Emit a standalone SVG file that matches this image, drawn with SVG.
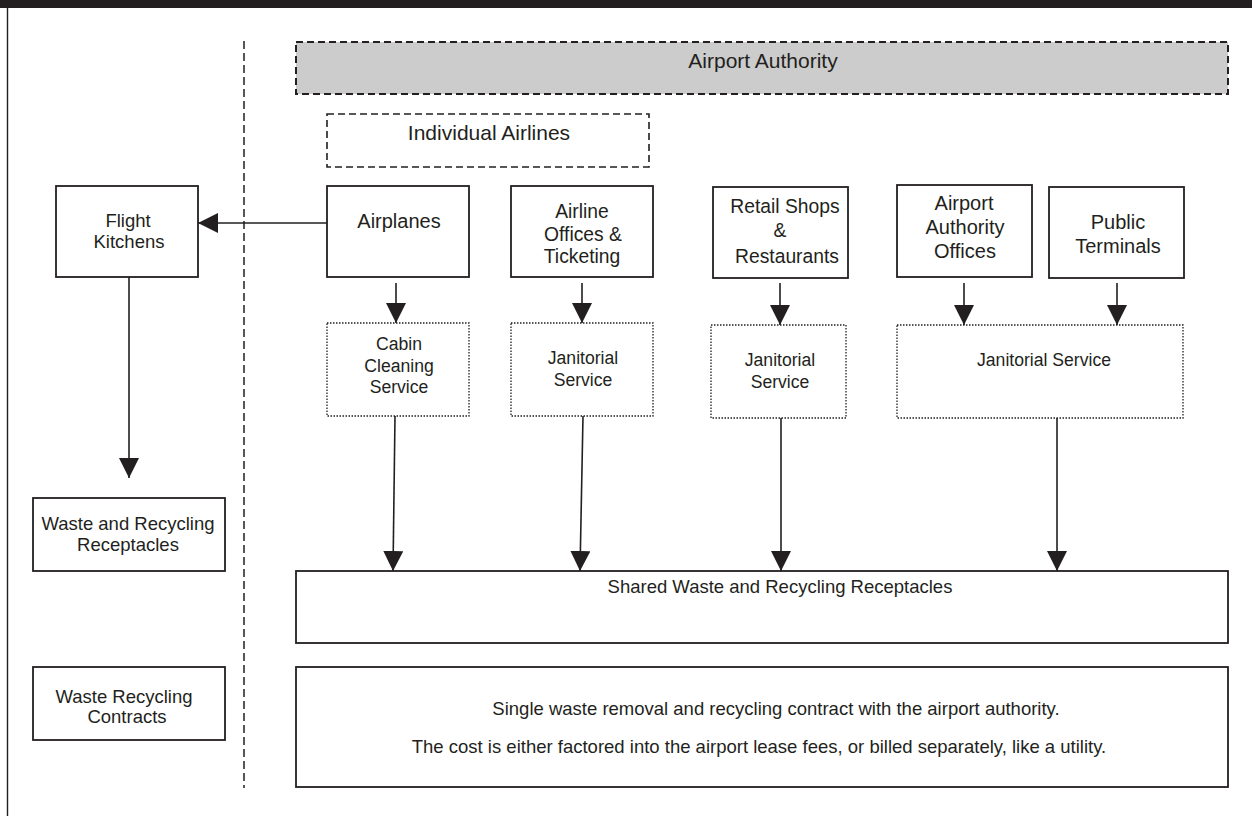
<svg xmlns="http://www.w3.org/2000/svg" width="1252" height="816" viewBox="0 0 1252 816">
<style>
text{font-family:"Liberation Sans",Arial,sans-serif;fill:#231f20;text-anchor:middle}
.box{fill:#fff;stroke:#231f20;stroke-width:1.8}
.dot{fill:#fff;stroke:#231f20;stroke-width:1.3;stroke-dasharray:1.5 1.5}
.dash{fill:none;stroke:#231f20;stroke-width:1.6;stroke-dasharray:7 4}
.con{stroke:#231f20;stroke-width:1.6;fill:none;marker-end:url(#ah)}
.s21{font-size:21px}.s20{font-size:20px}.s19{font-size:19.3px}.s18{font-size:18.5px}.s17{font-size:17.6px}
</style>
<defs>
<marker id="ah" markerUnits="userSpaceOnUse" markerWidth="20" markerHeight="20" viewBox="0 0 20 20" refX="20" refY="10" orient="auto">
<path d="M0,0 L20,10 L0,20 z" fill="#231f20"/>
</marker>
</defs>
<rect x="0" y="0" width="1252" height="816" fill="#fff"/>
<rect x="0" y="0" width="1252" height="8" fill="#231f20"/>
<line x1="7.5" y1="8" x2="7.5" y2="816" stroke="#231f20" stroke-width="1.4"/>
<line x1="244" y1="41" x2="244" y2="788" stroke="#231f20" stroke-width="1.5" stroke-dasharray="8 4"/>

<g id="airport-authority">
<rect x="296" y="42" width="932" height="52" fill="#cccccc" stroke="#231f20" stroke-width="2" stroke-dasharray="7 4"/>
<text class="s21" x="763" y="68">Airport Authority</text>
</g>
<g id="individual-airlines">
<rect class="dash" x="327" y="114" width="322" height="53"/>
<text class="s21" x="489" y="140">Individual Airlines</text>
</g>
<g id="flight-kitchens">
<rect class="box" x="56" y="186" width="142" height="91"/>
<text class="s18" x="128" y="227">Flight</text>
<text class="s18" x="129" y="248">Kitchens</text>
</g>
<g id="airplanes">
<rect class="box" x="327" y="186" width="142" height="91"/>
<text class="s20" x="399" y="228">Airplanes</text>
</g>
<g id="airline-offices">
<rect class="box" x="511" y="186" width="142" height="91"/>
<text class="s19" x="582" y="218">Airline</text>
<text class="s19" x="583" y="241">Offices &amp;</text>
<text class="s19" x="582" y="263">Ticketing</text>
</g>
<g id="retail">
<rect class="box" x="713" y="187" width="135" height="91"/>
<text class="s19" x="785" y="213">Retail Shops</text>
<text class="s19" x="780" y="237">&amp;</text>
<text class="s19" x="787" y="263">Restaurants</text>
</g>
<g id="aa-offices">
<rect class="box" x="897" y="185" width="135" height="92"/>
<text class="s20" x="964" y="210">Airport</text>
<text class="s20" x="965" y="234">Authority</text>
<text class="s20" x="965" y="258">Offices</text>
</g>
<g id="public-terminals">
<rect class="box" x="1049" y="187" width="135" height="91"/>
<text class="s20" x="1118" y="229">Public</text>
<text class="s20" x="1118" y="253">Terminals</text>
</g>
<g id="cabin-cleaning">
<rect class="dot" x="327" y="323" width="142" height="93"/>
<text class="s17" x="399" y="350">Cabin</text>
<text class="s17" x="399" y="372">Cleaning</text>
<text class="s17" x="399" y="393">Service</text>
</g>
<g id="janitorial-1">
<rect class="dot" x="511" y="323" width="142" height="93"/>
<text class="s17" x="583" y="364">Janitorial</text>
<text class="s17" x="583" y="386">Service</text>
</g>
<g id="janitorial-2">
<rect class="dot" x="711" y="325" width="135" height="93"/>
<text class="s17" x="780" y="366">Janitorial</text>
<text class="s17" x="780" y="388">Service</text>
</g>
<g id="janitorial-3">
<rect class="dot" x="897" y="325" width="286" height="93"/>
<text class="s17" x="1044" y="366">Janitorial Service</text>
</g>
<g id="waste-receptacles">
<rect class="box" x="33" y="498" width="192" height="73"/>
<text class="s18" x="128" y="530">Waste and Recycling</text>
<text class="s18" x="128" y="551">Receptacles</text>
</g>
<g id="waste-contracts">
<rect class="box" x="33" y="667" width="192" height="73"/>
<text class="s18" x="124" y="703">Waste Recycling</text>
<text class="s18" x="127" y="723">Contracts</text>
</g>
<g id="shared-receptacles">
<rect class="box" x="296" y="571" width="932" height="72"/>
<text class="s18" x="780" y="593">Shared Waste and Recycling Receptacles</text>
</g>
<g id="single-contract">
<rect class="box" x="296" y="667" width="932" height="120"/>
<text class="s18" x="776" y="715">Single waste removal and recycling contract with the airport authority.</text>
<text class="s18" x="759" y="753">The cost is either factored into the airport lease fees, or billed separately, like a utility.</text>
</g>

<g id="connectors">
<line class="con" x1="327" y1="223" x2="198" y2="223"/>
<line class="con" x1="129" y1="277" x2="129" y2="478"/>
<line class="con" x1="396" y1="283" x2="396" y2="323"/>
<line class="con" x1="582" y1="283" x2="582" y2="323"/>
<line class="con" x1="780" y1="283" x2="780" y2="325"/>
<line class="con" x1="964" y1="283" x2="964" y2="325"/>
<line class="con" x1="1117" y1="283" x2="1117" y2="325"/>
<line class="con" x1="395" y1="416" x2="393" y2="571"/>
<line class="con" x1="583" y1="416" x2="580" y2="571"/>
<line class="con" x1="781" y1="418" x2="781" y2="571"/>
<line class="con" x1="1057" y1="418" x2="1057" y2="571"/>
</g>
</svg>
